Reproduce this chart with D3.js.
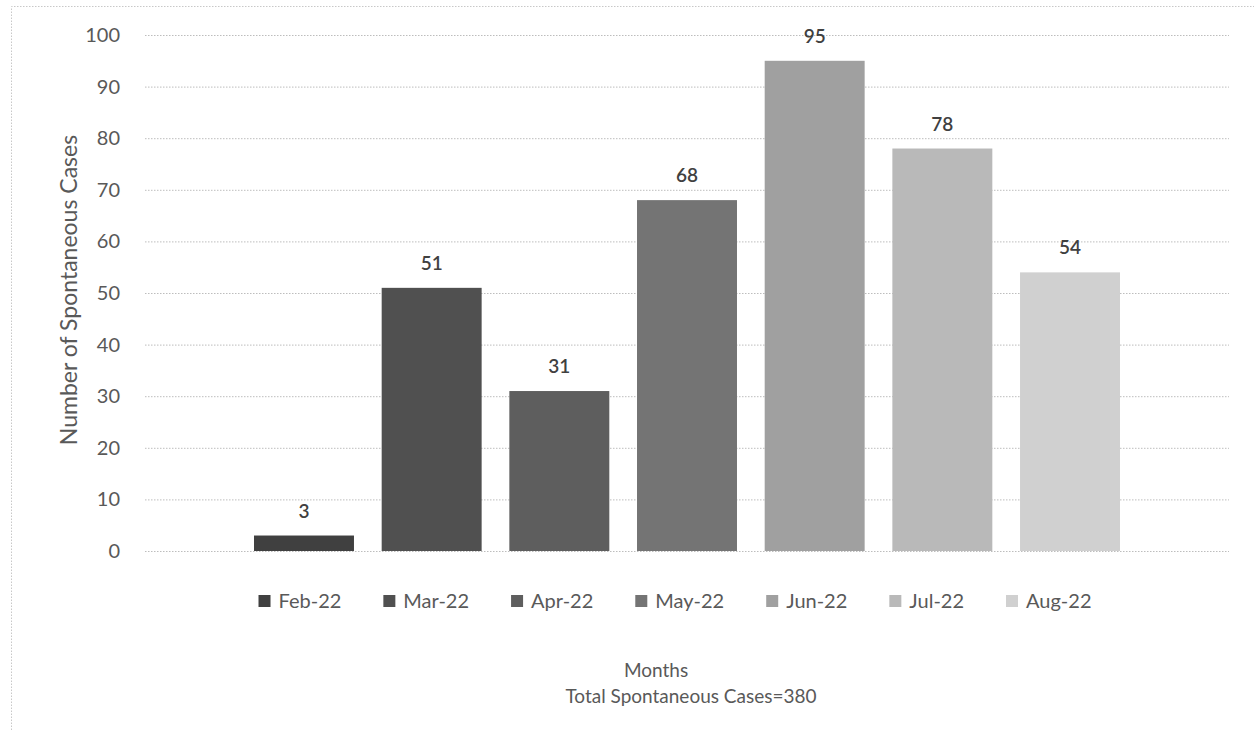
<!DOCTYPE html>
<html>
<head>
<meta charset="utf-8">
<script src="https://cdn.jsdelivr.net/npm/d3@7"></script>
<style>
  html, body { margin: 0; padding: 0; background: #ffffff; }
  svg { display: block; font-family: Lato, "Open Sans", sans-serif; }
</style>
</head>
<body>
<svg id="chart" width="1254" height="730"></svg>
<script>
// Monthly spontaneous case counts
const months = ["Feb-22", "Mar-22", "Apr-22", "May-22", "Jun-22", "Jul-22", "Aug-22"];
const cases = [3, 51, 31, 68, 95, 78, 54];
const barColors = ["#404040", "#505050", "#5e5e5e", "#747474", "#a0a0a0", "#b9b9b9", "#d0d0d0"];
const yTicks = [0, 10, 20, 30, 40, 50, 60, 70, 80, 90, 100];
const categoryName = "Months";
const totalLabel = "Total Spontaneous Cases=380";
const yTitle = "Number of Spontaneous Cases";

const svg = d3.select("#chart");
const plot = { left: 145, right: 1229, top: 35, bottom: 551 };

// chart frame (dotted, left and top edges visible)
svg.append("path")
  .attr("d", `M11.5,730 V6.5 H1254`)
  .attr("fill", "none")
  .attr("stroke", "#c8c8c8")
  .attr("stroke-width", 1)
  .attr("stroke-dasharray", "1.5,1.5");

const y = d3.scaleLinear().domain([0, 100]).range([plot.bottom, plot.top]);

// single category holding a cluster of seven month series
const outer = d3.scaleBand().domain([categoryName]).range([plot.left, plot.right]).padding(0.1118);
const x = d3.scaleBand().domain(months)
  .range([outer(categoryName), outer(categoryName) + outer.bandwidth()])
  .paddingInner(0.217).paddingOuter(0);

// gridlines and value axis labels
const yAxis = d3.axisLeft(y).tickValues(yTicks).tickSize(-(plot.right - plot.left)).tickPadding(25);
const gAxis = svg.append("g").attr("transform", `translate(${plot.left},0)`).call(yAxis);
gAxis.select(".domain").remove();
gAxis.selectAll(".tick line")
  .attr("stroke", "#bdbdbd")
  .attr("stroke-dasharray", "1.5,1.5");
gAxis.selectAll(".tick text")
  .attr("fill", "#595959")
  .style("font-size", "20px")
  .style("font-family", "Lato, 'Open Sans', sans-serif");

// bars
svg.append("g").selectAll("rect")
  .data(months)
  .join("rect")
  .attr("x", d => x(d))
  .attr("width", x.bandwidth())
  .attr("y", (d, i) => y(cases[i]))
  .attr("height", (d, i) => y(0) - y(cases[i]))
  .attr("fill", (d, i) => barColors[i]);

// value labels
svg.append("g").selectAll("text")
  .data(months)
  .join("text")
  .attr("x", d => x(d) + x.bandwidth() / 2)
  .attr("y", (d, i) => y(cases[i]) - 18)
  .attr("text-anchor", "middle")
  .attr("fill", "#404040")
  .style("font-size", "19px")
  .style("font-weight", "600")
  .text((d, i) => cases[i]);

// legend
const legend = svg.append("g");
const items = legend.selectAll("g").data(months).join("g");
items.append("rect")
  .attr("width", 12).attr("height", 12).attr("y", -13)
  .attr("fill", (d, i) => barColors[i]);
items.append("text")
  .attr("x", 20)
  .attr("y", 0)
  .attr("fill", "#595959")
  .style("font-size", "20px")
  .text(d => d);
const itemGap = 42;
let cursor = 0;
items.each(function () {
  const w = 20 + d3.select(this).select("text").node().getComputedTextLength();
  d3.select(this).attr("data-x", cursor);
  cursor += w + itemGap;
});
const legendWidth = cursor - itemGap;
const legendLeft = 675 - legendWidth / 2;
items.attr("transform", function () {
  return `translate(${legendLeft + (+d3.select(this).attr("data-x"))},608)`;
});

// axis titles
svg.append("text")
  .attr("x", 656).attr("y", 677)
  .attr("text-anchor", "middle")
  .attr("fill", "#595959")
  .style("font-size", "19px")
  .text(categoryName);
svg.append("text")
  .attr("x", 691).attr("y", 703)
  .attr("text-anchor", "middle")
  .attr("fill", "#595959")
  .style("font-size", "19px")
  .text(totalLabel);
svg.append("text")
  .attr("transform", "translate(77,290) rotate(-90)")
  .attr("text-anchor", "middle")
  .attr("fill", "#595959")
  .style("font-size", "23px")
  .text(yTitle);
</script>
</body>
</html>
